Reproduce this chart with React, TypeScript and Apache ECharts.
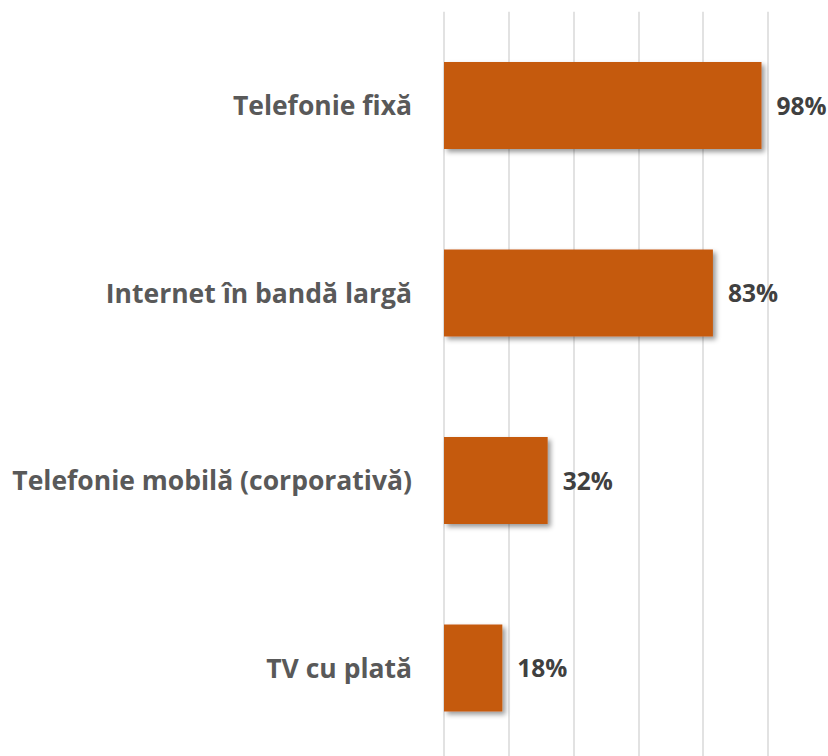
import React, { useEffect, useRef } from "react";
import * as echarts from "echarts";

const categories = [
  "Telefonie fixă",
  "Internet în bandă largă",
  "Telefonie mobilă (corporativă)",
  "TV cu plată",
];
const values = [98, 83, 32, 18];
const axisMin = 0;
const axisMax = 100;
const axisStep = 20;

export default function App() {
  const ref = useRef<HTMLDivElement>(null);
  useEffect(() => {
    document.body.style.margin = "0";
    document.body.style.overflow = "hidden";
    const chart = echarts.init(ref.current!, undefined, { renderer: "svg" });
    chart.setOption({
      animation: false,
      backgroundColor: "#ffffff",
      grid: { left: 444, right: 60, top: 11.7, height: 750, containLabel: false },
      xAxis: {
        type: "value",
        min: axisMin,
        max: axisMax,
        interval: axisStep,
        axisLabel: { show: false },
        axisLine: { show: false },
        axisTick: { show: false },
        splitLine: { show: true, lineStyle: { color: "#d9d9d9", width: 1.5 } },
      },
      yAxis: {
        type: "category",
        inverse: true,
        data: categories,
        axisLine: { show: false },
        axisTick: { show: false },
        axisLabel: {
          margin: 32,
          fontFamily: "Open Sans",
          fontWeight: "bold",
          fontSize: 26.5,
          color: "#595959",
        },
      },
      series: [
        {
          type: "bar",
          data: values,
          barWidth: 87,
          itemStyle: {
            color: "#C55A11",
            shadowBlur: 5,
            shadowColor: "rgba(0,0,0,0.4)",
            shadowOffsetX: 3,
            shadowOffsetY: 3,
          },
          label: {
            show: true,
            position: "right",
            distance: 15,
            formatter: "{c}%",
            fontFamily: "Open Sans",
            fontWeight: "bold",
            fontSize: 24.5,
            color: "#404040",
          },
        },
      ],
    });
    return () => chart.dispose();
  }, []);
  return (
    <div style={{ width: 828, height: 756, overflow: "hidden" }}>
      <div ref={ref} style={{ width: 828, height: 762 }} />
    </div>
  );
}
